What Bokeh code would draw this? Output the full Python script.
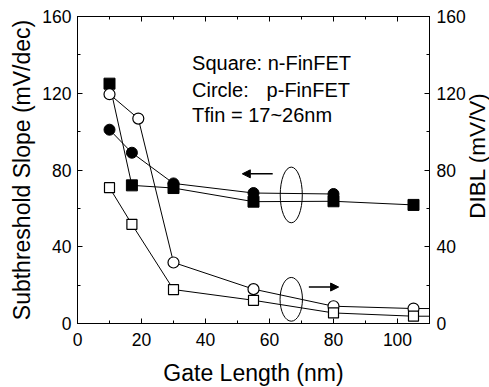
import math
from bokeh.plotting import figure
from bokeh.layouts import row
from bokeh.models import (Range1d, LinearAxis, SingleIntervalTicker, Label, Arrow, NormalHead)
from bokeh.embed import file_html
from bokeh.resources import INLINE

FONT = "Liberation Sans"

# Data (gate length in nm)
n_ss_x = [10, 17, 30, 55, 80, 105]
n_ss_y = [125, 72, 70.6, 63.5, 63.7, 61.8]
p_ss_x = [10, 17, 30, 55, 80]
p_ss_y = [101, 89, 73, 68, 67.5]
p_dibl_x = [10, 19, 30, 55, 80, 105, 130]
p_dibl_y = [119.5, 106.8, 31.8, 17.9, 9.0, 7.8, 7.8]
n_dibl_x = [10, 17, 30, 55, 80, 105, 130]
n_dibl_y = [70.8, 51.7, 17.7, 12.1, 5.5, 3.8, 3.8]
n_points = 6  # markers shown for DIBL series (last entry lies beyond the axis)

x_ticks_interval = 20
y_ticks_interval = 40

p = figure(frame_width=352, frame_height=307, output_backend="svg", toolbar_location=None,
           x_range=Range1d(0, 110), y_range=Range1d(0, 160),
           min_border_left=77, min_border_right=36, min_border_top=16, min_border_bottom=56,
           x_axis_location=None, y_axis_location=None)
p.extra_y_ranges = {"dibl": Range1d(0, 160)}
p.xgrid.visible = False
p.ygrid.visible = False
p.outline_line_color = "black"
p.outline_line_width = 1
p.background_fill_color = "white"
p.border_fill_color = "white"


def style_axis(ax, show_labels=True):
    ax.axis_line_color = "black"
    ax.axis_line_width = 1
    ax.major_tick_in = 5
    ax.major_tick_out = 0
    ax.minor_tick_in = 3
    ax.minor_tick_out = 0
    ax.major_tick_line_color = "black"
    ax.minor_tick_line_color = "black"
    ax.major_label_text_font = FONT
    ax.major_label_text_font_size = "17.5px"
    ax.major_label_text_color = "black" if show_labels else None
    ax.axis_label_text_font = FONT
    ax.axis_label_text_font_size = "23px"
    ax.axis_label_text_font_style = "normal"
    ax.axis_label_text_color = "black"


xb = LinearAxis(ticker=SingleIntervalTicker(interval=x_ticks_interval, num_minor_ticks=2),
                axis_label="Gate Length (nm)")
style_axis(xb)
xb.major_label_standoff = 9
xb.axis_label_standoff = 11
p.add_layout(xb, "below")

xt = LinearAxis(ticker=SingleIntervalTicker(interval=x_ticks_interval, num_minor_ticks=2))
style_axis(xt, show_labels=False)
xt.major_label_text_font_size = "0px"
p.add_layout(xt, "above")

yl = LinearAxis(ticker=SingleIntervalTicker(interval=y_ticks_interval, num_minor_ticks=2),
                axis_label="Subthreshold Slope (mV/dec)")
style_axis(yl)
yl.major_label_standoff = 6
yl.axis_label_standoff = 4
p.add_layout(yl, "left")

yr = LinearAxis(y_range_name="dibl",
                ticker=SingleIntervalTicker(interval=y_ticks_interval, num_minor_ticks=2))
style_axis(yr)
yr.major_label_standoff = 7
p.add_layout(yr, "right")

# SS series (left axis)
p.line(n_ss_x, n_ss_y, line_color="black", line_width=1)
p.scatter(n_ss_x, n_ss_y, marker="square", size=11, fill_color="black", line_color="black")
p.line(p_ss_x, p_ss_y, line_color="black", line_width=1)
p.scatter(p_ss_x, p_ss_y, marker="circle", size=11, fill_color="black", line_color="black")

# DIBL series (right axis)
p.line(p_dibl_x, p_dibl_y, line_color="black", line_width=1, y_range_name="dibl")
p.scatter(p_dibl_x[:n_points], p_dibl_y[:n_points], marker="circle", size=11,
          fill_color="white", line_color="black", line_width=1.2, y_range_name="dibl")
p.line(n_dibl_x, n_dibl_y, line_color="black", line_width=1, y_range_name="dibl")
p.scatter(n_dibl_x[:n_points], n_dibl_y[:n_points], marker="square", size=10,
          fill_color="white", line_color="black", line_width=1.2, y_range_name="dibl")

# Ellipses
p.ellipse(x=[66.8, 66.8], y=[67, 12.6], width=[6.9, 7.0], height=[29, 22.8],
          fill_color=None, line_color="black", line_width=1)

# Arrows
p.add_layout(Arrow(end=NormalHead(size=8, fill_color="black", line_color="black"),
                   x_start=61, y_start=78, x_end=51.5, y_end=78,
                   line_color="black", line_width=1.5))
p.add_layout(Arrow(end=NormalHead(size=8, fill_color="black", line_color="black"),
                   x_start=72.3, y_start=19, x_end=81.6, y_end=19,
                   line_color="black", line_width=1.5))

# Annotation text
for txt, x, y in [("Square: n-FinFET", 35.8, 135.6), ("Circle:", 35.8, 121.5),
                  ("p-FinFET", 59.1, 121.5), ("Tfin = 17~26nm", 35.8, 108.5)]:
    p.add_layout(Label(x=x, y=y, text=txt, text_font=FONT, text_font_size="20px",
                       text_baseline="alphabetic", text_color="black"))

# Narrow strip to the right holding the right-axis title (reads bottom-to-top)
p2 = figure(width=23, height=387, output_backend="svg", toolbar_location=None,
            x_range=Range1d(0, 23), y_range=Range1d(0, 387),
            min_border_left=0, min_border_right=0, min_border_top=0, min_border_bottom=0,
            x_axis_location=None, y_axis_location=None)
p2.xgrid.visible = False
p2.ygrid.visible = False
p2.outline_line_color = None
p2.background_fill_color = "white"
p2.border_fill_color = "white"
p2.add_layout(Label(x=9, y=211, text="DIBL (mV/V)", angle=math.pi / 2,
                    text_align="center", text_baseline="middle", text_font=FONT,
                    text_font_size="22.5px", text_color="black"))

layout = row(p, p2)
open("out.html", "w").write(file_html(layout, INLINE))
